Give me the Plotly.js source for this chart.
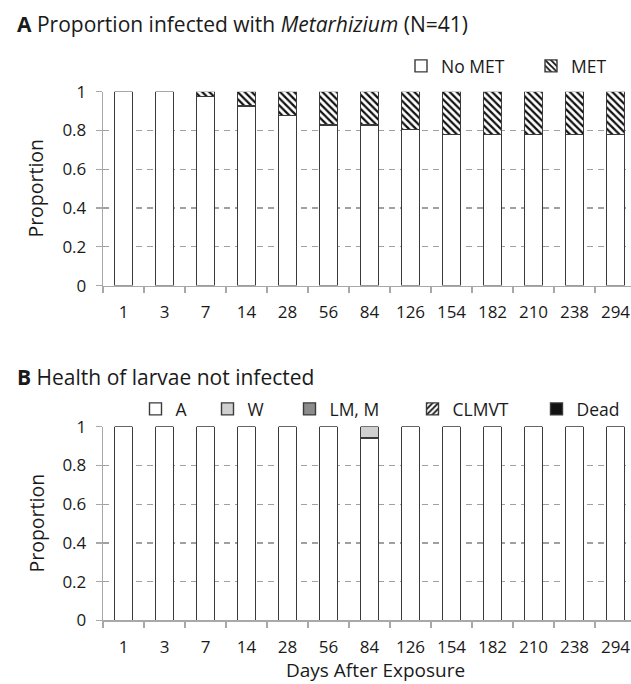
<!DOCTYPE html>
<html>
<head>
<meta charset="utf-8">
<script src="https://cdn.plot.ly/plotly-3.0.1.min.js"></script>
<style>html,body{margin:0;padding:0;background:#fff;}#chart{width:631px;height:684px;}</style>
</head>
<body>
<div id="chart"></div>
<script>
// ---- data ----
var days = ['1','3','7','14','28','56','84','126','154','182','210','238','294'];
// Panel A: proportion infected with Metarhizium (N=41)
var noMet = [1, 1, 0.976, 0.927, 0.878, 0.829, 0.829, 0.805, 0.780, 0.780, 0.780, 0.780, 0.780];
var met   = [0, 0, 0.024, 0.073, 0.122, 0.171, 0.171, 0.195, 0.220, 0.220, 0.220, 0.220, 0.220];
// Panel B: health of larvae not infected
var healthA     = [1, 1, 1, 1, 1, 1, 0.941, 1, 1, 1, 1, 1, 1];
var healthW     = [0, 0, 0, 0, 0, 0, 0.059, 0, 0, 0, 0, 0, 0];
var healthLM    = [0, 0, 0, 0, 0, 0, 0, 0, 0, 0, 0, 0, 0];
var healthCLMVT = [0, 0, 0, 0, 0, 0, 0, 0, 0, 0, 0, 0, 0];
var healthDead  = [0, 0, 0, 0, 0, 0, 0, 0, 0, 0, 0, 0, 0];
var yTicks = [0, 0.2, 0.4, 0.6, 0.8, 1];
var yTickText = ['0', '0.2', '0.4', '0.6', '0.8', '1'];

// ---- geometry ----
var W = 631, H = 684;
var FONT = 'Open Sans, sans-serif';
var TXT = '#1a1a1a';
var OUT = '#3a3a3a';
var BW = 0.43;
function px(x){ return x / W; }
function py(y){ return 1 - y / H; }

function bar(name, y, color, xa, ya, leg, pattern){
  var t = {
    type: 'bar', name: name, x: days, y: y, xaxis: xa, yaxis: ya, width: BW,
    legend: leg, showlegend: true,
    marker: { color: color, line: { color: OUT, width: 1.4 } },
    hoverinfo: 'skip'
  };
  if (pattern) t.marker.pattern = pattern;
  return t;
}

var hatchBack = { shape: '\\', fgcolor: '#111', bgcolor: '#fff', size: 5, solidity: 0.45 };
var hatchFwd  = { shape: '/', fgcolor: '#111', bgcolor: '#fff', size: 5, solidity: 0.45 };

var data = [
  bar('No MET', noMet, '#ffffff', 'x', 'y', 'legend', null),
  bar('MET', met, '#ffffff', 'x', 'y', 'legend2', hatchBack),
  bar('A', healthA, '#ffffff', 'x2', 'y2', 'legend3', null),
  bar('W', healthW, '#d0d0d0', 'x2', 'y2', 'legend4', null),
  bar('LM, M', healthLM, '#8c8c8c', 'x2', 'y2', 'legend5', null),
  bar('CLMVT', healthCLMVT, '#ffffff', 'x2', 'y2', 'legend6', hatchFwd),
  bar('Dead', healthDead, '#111111', 'x2', 'y2', 'legend7', null)
];

var xRange = [-0.5, 12.378];
function xaxis(anchor){
  return {
    domain: [px(103), 1], anchor: anchor, type: 'category', range: xRange,
    showline: true, linecolor: '#a8a8a8', linewidth: 1.3,
    ticks: 'outside', ticklen: 6, tickcolor: '#a8a8a8', tickwidth: 1.3,
    tickson: 'boundaries', showgrid: false, zeroline: false,
    ticklabelstandoff: 11,
    tickfont: { family: FONT, size: 17, color: TXT }
  };
}
function yaxis(anchor, top, bottom){
  return {
    domain: [py(bottom), py(top)], anchor: anchor, range: [0, 1],
    showline: true, linecolor: '#a8a8a8', linewidth: 1.3,
    ticks: 'outside', ticklen: 6, tickcolor: '#a8a8a8', tickwidth: 1.3,
    tickvals: yTicks, ticktext: yTickText,
    showgrid: true, gridcolor: '#a0a0a0', gridwidth: 1.3, griddash: '6px,5px',
    zeroline: false, ticklabelstandoff: 6,
    tickfont: { family: FONT, size: 17, color: TXT }
  };
}

function leg(cx, cy){
  return {
    x: px(cx - 20), y: py(cy), xanchor: 'left', yanchor: 'middle',
    orientation: 'h', bgcolor: 'rgba(0,0,0,0)', borderwidth: 0,
    font: { family: FONT, size: 17.5, color: TXT }
  };
}

var layout = {
  width: W, height: H,
  margin: { l: 0, r: 0, t: 0, b: 0 },
  paper_bgcolor: '#fff', plot_bgcolor: 'rgba(0,0,0,0)',
  barmode: 'stack',
  font: { family: FONT, color: TXT },
  xaxis: xaxis('y'),
  yaxis: yaxis('x', 91.7, 285.6),
  xaxis2: xaxis('y2'),
  yaxis2: yaxis('x2', 426.7, 620.4),
  legend: leg(421, 66),
  legend2: leg(551, 66),
  legend3: leg(155.5, 409),
  legend4: leg(227.5, 409),
  legend5: leg(309.5, 409),
  legend6: leg(432.5, 409),
  legend7: leg(556.5, 409),
  annotations: [
    { text: '<b>A</b> Proportion infected with <i>Metarhizium</i> (N=41)', xref: 'paper', yref: 'paper',
      x: px(15), y: py(24), xanchor: 'left', yanchor: 'middle', showarrow: false,
      font: { family: FONT, size: 21, color: TXT } },
    { text: '<b>B</b> Health of larvae not infected', xref: 'paper', yref: 'paper',
      x: px(15), y: py(377), xanchor: 'left', yanchor: 'middle', showarrow: false,
      font: { family: FONT, size: 21, color: TXT } },
    { text: 'Proportion', xref: 'paper', yref: 'paper', x: px(36), y: py(188.6),
      xanchor: 'center', yanchor: 'middle', textangle: -90, showarrow: false,
      font: { family: FONT, size: 19.5, color: TXT } },
    { text: 'Proportion', xref: 'paper', yref: 'paper', x: px(36), y: py(523.5),
      xanchor: 'center', yanchor: 'middle', textangle: -90, showarrow: false,
      font: { family: FONT, size: 19.5, color: TXT } },
    { text: 'Days After Exposure', xref: 'paper', yref: 'paper', x: px(375), y: py(670),
      xanchor: 'center', yanchor: 'middle', showarrow: false, borderpad: 0,
      font: { family: FONT, size: 19, color: TXT } }
  ]
};

Plotly.newPlot('chart', data, layout, { staticPlot: true, displayModeBar: false });
</script>
</body>
</html>
